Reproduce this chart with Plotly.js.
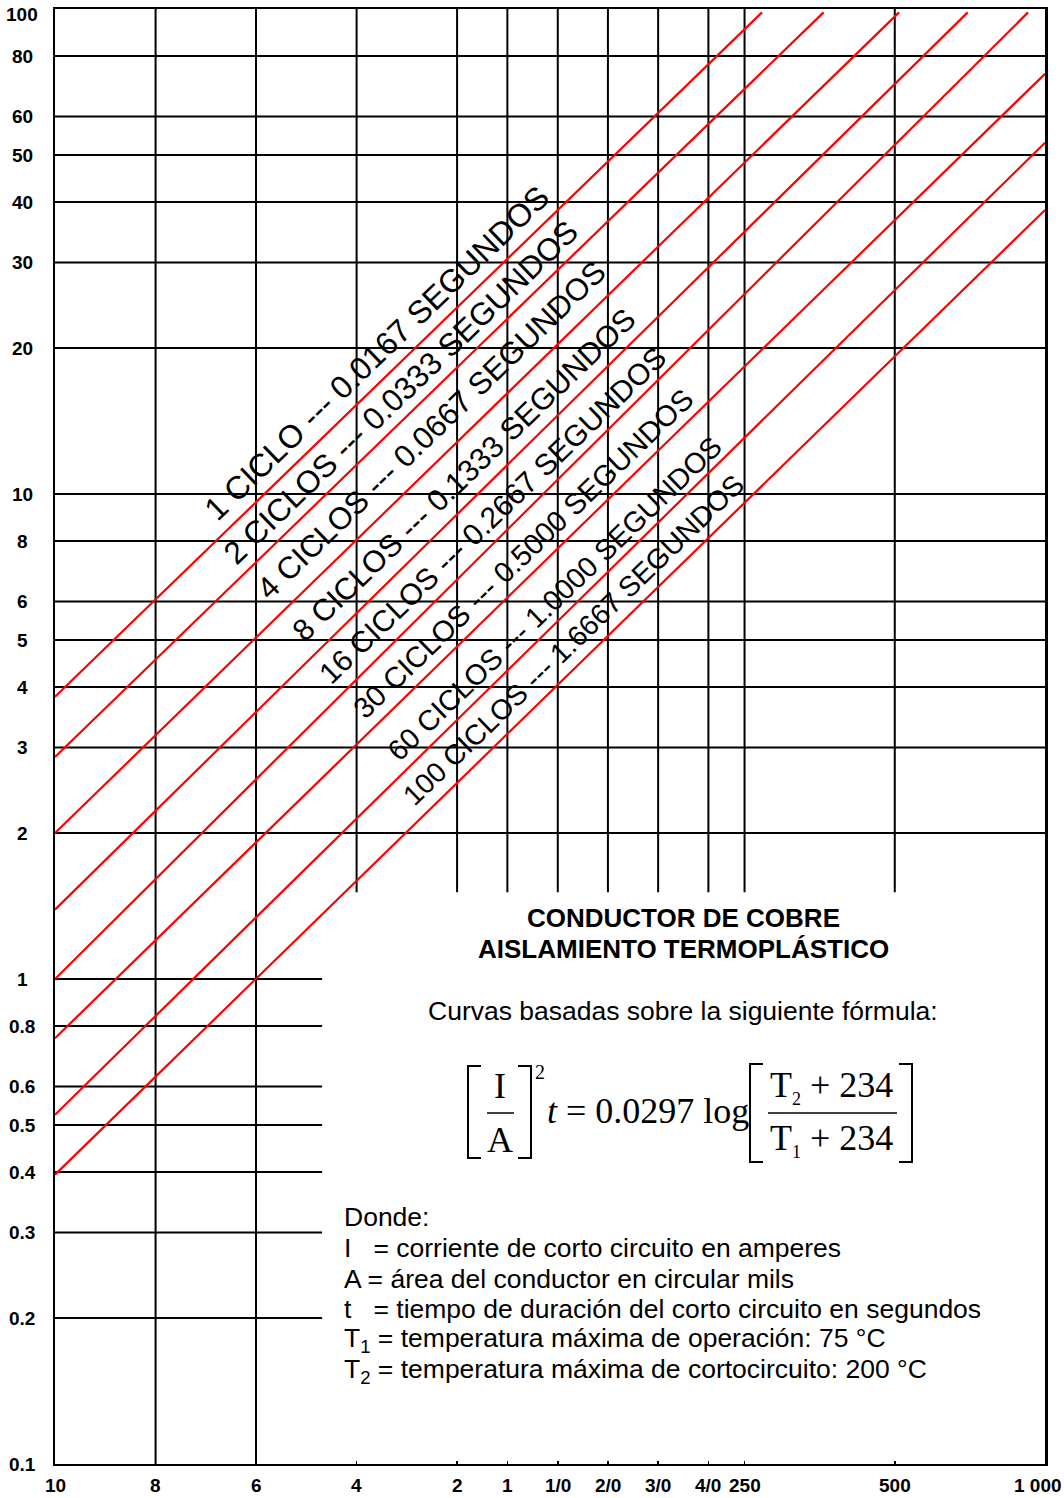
<!DOCTYPE html>
<html>
<head>
<meta charset="utf-8">
<script src="https://cdn.plot.ly/plotly-3.0.1.min.js"></script>
<style>html,body{margin:0;padding:0;background:#fff;}</style>
</head>
<body>
<div id="chart" style="width:1064px;height:1498px;"></div>
<script>
// ---------- data ----------
const sizeLabels = ['10','8','6','4','2','1','1/0','2/0','3/0','4/0','250','500','1 000'];
const sizeCmil   = [10380,16510,26240,41740,66360,83690,105600,133100,167800,211600,250000,500000,1000000];
const fullHeightSizes = ['8','6'];

const yTickVals = [0.1,0.2,0.3,0.4,0.5,0.6,0.8,1,2,3,4,5,6,8,10,20,30,40,50,60,80,100];
const yTickText = ['0.1','0.2','0.3','0.4','0.5','0.6','0.8','1','2','3','4','5','6','8','10','20','30','40','50','60','80','100'];
const fullWidthKA = [2,3,4,5,6,8,10,20,30,40,50,60,80];
const shortKA = [0.2,0.3,0.4,0.5,0.6,0.8,1];
const shortGridEndCmil = 35600;   // short horizontal grid lines stop here
const vertGridBottomKA = 1.51;     // upper vertical grid lines stop here

const curveLabels = [
  '1 CICLO --- 0.0167 SEGUNDOS',
  '2 CICLOS --- 0.0333 SEGUNDOS',
  '4 CICLOS --- 0.0667 SEGUNDOS',
  '8 CICLOS --- 0.1333 SEGUNDOS',
  '16 CICLOS --- 0.2667 SEGUNDOS',
  '30 CICLOS --- 0.5000 SEGUNDOS',
  '60 CICLOS --- 1.0000 SEGUNDOS',
  '100 CICLOS --- 1.6667 SEGUNDOS'
];
const curveStartCmil = [10380,10380,10380,10380,10380,10380,10380,10380];
const curveStartKA   = [3.82,2.87,2.0,1.39,1.0,0.755,0.525,0.395];
const curveEndCmil   = [271000,360000,510000,700000,925000,1000000,1000000,1000000];
const curveEndKA     = [98.4,98.4,98.4,98.4,98.4,73.5,53,38.5];
const labelCmil = [45860,51230,58850,68510,77960,89950,103780,113300];
const labelKA   = [19.5,16.2,13.55,11.0,9.05,7.52,6.08,5.0];
const labelFontSize = [32,31.5,31,30.5,29.8,29.2,28.7,28.3];

// ---------- geometry helpers (page pixel -> paper) ----------
const L = 55, R = 1045, T = 9, B = 1464;
const PX = x => (x - L) / (R - L);
const PY = y => (B - y) / (B - T);

const SANS = 'Liberation Sans, Arial, sans-serif';
const NARROW = 'Liberation Sans Narrow, Arial Narrow, Liberation Sans, Arial, sans-serif';
const SERIF = 'Liberation Serif, Times New Roman, serif';

// ---------- traces ----------
const traces = [];
const gx = [], gy = [];
const xMin = sizeCmil[0], xMax = sizeCmil[sizeCmil.length - 1];
fullWidthKA.forEach(v => { gx.push(xMin, xMax, null); gy.push(v, v, null); });
shortKA.forEach(v => { gx.push(xMin, shortGridEndCmil, null); gy.push(v, v, null); });
sizeLabels.forEach((lab, i) => {
  if (i === 0 || i === sizeLabels.length - 1) return;
  const full = fullHeightSizes.includes(lab);
  gx.push(sizeCmil[i], sizeCmil[i], null);
  gy.push(full ? yTickVals[0] : vertGridBottomKA, yTickVals[yTickVals.length - 1], null);
});
traces.push({x: gx, y: gy, type: 'scatter', mode: 'lines', line: {color: '#000', width: 2},
  hoverinfo: 'skip', showlegend: false});

curveLabels.forEach((name, i) => {
  traces.push({x: [curveStartCmil[i], curveEndCmil[i]], y: [curveStartKA[i], curveEndKA[i]],
    type: 'scatter', mode: 'lines', name: name, line: {color: '#ff0000', width: 2.2},
    hoverinfo: 'skip', showlegend: false});
});

// ---------- annotations ----------
const ann = [];
yTickVals.forEach((v, i) => {
  ann.push({xref: 'paper', x: PX(22), yref: 'y', y: Math.log10(v), text: '<b>' + yTickText[i] + '</b>',
    showarrow: false, xanchor: 'center', yanchor: 'middle', yshift: (v === 100 ? -5 : 0),
    font: {family: NARROW, size: 19, color: '#000'}});
});
sizeLabels.forEach((lab, i) => {
  ann.push({xref: 'x', x: Math.log10(sizeCmil[i]), yref: 'paper', y: PY(1485), text: '<b>' + lab + '</b>',
    showarrow: false, xanchor: 'center', yanchor: 'middle', xshift: (i === sizeLabels.length - 1 ? -7 : 0),
    font: {family: NARROW, size: 19, color: '#000'}});
});
curveLabels.forEach((t, i) => {
  ann.push({xref: 'x', x: Math.log10(labelCmil[i]), yref: 'y', y: Math.log10(labelKA[i]), text: t,
    showarrow: false, xanchor: 'center', yanchor: 'middle', textangle: -44,
    font: {family: SANS, size: labelFontSize[i], color: '#000'}});
});

function pt(text, x, y, opts) {
  ann.push(Object.assign({xref: 'paper', yref: 'paper', x: PX(x), y: PY(y), text: text, showarrow: false,
    xanchor: 'center', yanchor: 'middle', font: {family: SANS, size: 26.5, color: '#000'}}, opts || {}));
}
pt('<b>CONDUCTOR DE COBRE</b>', 683, 918, {font: {family: SANS, size: 26, color: '#000'}});
pt('<b>AISLAMIENTO TERMOPLÁSTICO</b>', 683, 949, {font: {family: SANS, size: 26, color: '#000'}});
pt('Curvas basadas sobre la siguiente fórmula:', 683, 1011);

const nb = '\u00a0';
const defs = [
  'Donde:',
  'I' + nb + nb + nb + '= corriente de corto circuito en amperes',
  'A = área del conductor en circular mils',
  't' + nb + nb + nb + '= tiempo de duración del corto circuito en segundos',
  'T<sub>1</sub> = temperatura máxima de operación: 75 °C',
  'T<sub>2</sub> = temperatura máxima de cortocircuito: 200 °C'
];
const defY = [1217, 1248, 1279, 1309, 1340, 1371];
defs.forEach((d, i) => pt(d, 342, defY[i], {xanchor: 'left'}));

// formula
const fSerif = s => ({family: SERIF, size: s, color: '#000'});
const smallSub = d => '<sub><span style="font-size:18px">' + d + '</span></sub>';
pt('I', 500, 1086, {font: fSerif(36)});
pt('A', 500, 1140, {font: fSerif(36)});
pt('2', 540, 1072, {font: fSerif(20)});
pt('<i>t</i>' + nb + '=' + nb + '0.0297' + nb + 'log', 545, 1111, {xanchor: 'left', font: fSerif(36)});
pt('T' + smallSub('2') + nb + '+' + nb + '234', 831, 1087, {font: fSerif(36)});
pt('T' + smallSub('1') + nb + '+' + nb + '234', 831, 1140, {font: fSerif(36)});

// ---------- shapes for the formula brackets / bars ----------
const shapes = [];
function bracket(xo, xi, yt, yb) {
  shapes.push({type: 'path', xref: 'paper', yref: 'paper',
    path: `M ${PX(xi)},${PY(yt)} L ${PX(xo)},${PY(yt)} L ${PX(xo)},${PY(yb)} L ${PX(xi)},${PY(yb)}`,
    line: {color: '#000', width: 2}});
}
function bar(x0, x1, y) {
  shapes.push({type: 'line', xref: 'paper', yref: 'paper', x0: PX(x0), x1: PX(x1), y0: PY(y), y1: PY(y),
    line: {color: '#000', width: 1.5}});
}
bracket(468, 481, 1066, 1158);
bracket(531, 518, 1066, 1158);
bracket(750, 763, 1064, 1162);
bracket(912, 899, 1064, 1162);
bar(487, 514, 1113);
bar(768, 897, 1113);

const layout = {
  width: 1064, height: 1498,
  margin: {l: L, r: 1064 - R, t: T, b: 1498 - B, pad: 0},
  paper_bgcolor: '#fff', plot_bgcolor: '#fff',
  font: {family: SANS, color: '#000'},
  showlegend: false,
  xaxis: {type: 'log', range: [Math.log10(xMin), Math.log10(xMax)], showgrid: false, zeroline: false,
    showline: true, mirror: true, linecolor: '#000', linewidth: 2,
    ticks: 'inside', ticklen: 3, tickwidth: 1.5, tickcolor: '#000',
    tickmode: 'array', tickvals: sizeCmil.slice(1, -1), showticklabels: false, fixedrange: true},
  yaxis: {type: 'log', range: [Math.log10(yTickVals[0]), Math.log10(yTickVals[yTickVals.length - 1])],
    showgrid: false, zeroline: false, showline: true, mirror: true, linecolor: '#000', linewidth: 2.5,
    ticks: '', showticklabels: false, fixedrange: true},
  annotations: ann,
  shapes: shapes
};

Plotly.newPlot('chart', traces, layout, {displayModeBar: false, staticPlot: true});
</script>
</body>
</html>
